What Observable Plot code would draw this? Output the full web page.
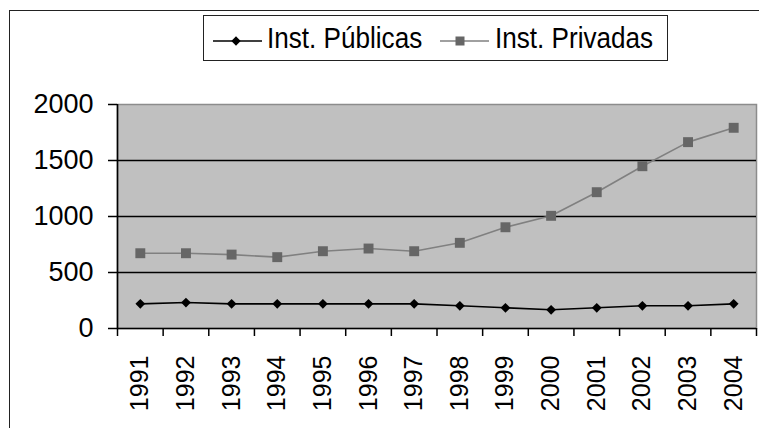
<!DOCTYPE html>
<html>
<head>
<meta charset="utf-8">
<script src="https://cdn.jsdelivr.net/npm/d3@7"></script>
<script src="https://cdn.jsdelivr.net/npm/@observablehq/plot@0.6"></script>
<style>
  html, body { margin: 0; padding: 0; background: white; }
  #wrap { position: relative; width: 759px; height: 428px; overflow: hidden; font-family: "Liberation Sans", Arial, sans-serif; }
  #chart { position: absolute; left: 0; top: 0; }
  #outer { position: absolute; left: 9px; top: 10px; width: 900px; height: 600px; border: 1.6px solid #222; box-sizing: border-box; }
  #legend { position: absolute; left: 203px; top: 15px; width: 465px; height: 46px; border: 1.6px solid #222; box-sizing: border-box; background: white; }
  .sw { position: absolute; top: 0; }
  .lt { position: absolute; top: 5px; font-size: 30px; line-height: 34px; color: #000; transform-origin: left center; transform: scaleX(0.87); white-space: nowrap; }
</style>
</head>
<body>
<div id="wrap">
  <div id="chart"></div>
  <div id="outer"></div>
  <div id="legend"></div>
</div>
<script>
const years = [1991, 1992, 1993, 1994, 1995, 1996, 1997, 1998, 1999, 2000, 2001, 2002, 2003, 2004];
const publicas = [220, 232, 220, 220, 220, 220, 220, 203, 185, 167, 185, 203, 203, 220];
const privadas = [672, 672, 660, 637, 690, 714, 690, 765, 904, 1006, 1217, 1449, 1664, 1792];
const yTicks = [0, 500, 1000, 1500, 2000];
const gridVals = [500, 1000, 1500];
const seriesNames = ["Inst. Públicas", "Inst. Privadas"];

const pub = years.map((y, i) => ({year: y, value: publicas[i]}));
const priv = years.map((y, i) => ({year: y, value: privadas[i]}));
const xLo = years[0] - 0.5, xHi = years[years.length - 1] + 0.5;
const boundaries = years.map(y => y - 0.5).concat([xHi]);

const diamond = d3.symbolDiamond2 || d3.symbolDiamond;

const chart = Plot.plot({
  width: 759,
  height: 428,
  marginLeft: 117,
  marginRight: 3,
  marginTop: 104,
  marginBottom: 100,
  style: {background: "transparent", fontFamily: "'Liberation Sans', Arial, sans-serif", color: "#000", overflow: "visible"},
  x: {domain: [xLo, xHi], label: null},
  y: {domain: [0, 2000], label: null},
  marks: [
    Plot.frame({fill: "#c0c0c0", stroke: "#8c8c8c", strokeWidth: 1.5}),
    Plot.ruleY(gridVals, {stroke: "#000", strokeWidth: 1.6}),
    Plot.ruleY([0], {stroke: "#000", strokeWidth: 1.6}),
    Plot.ruleX([xLo], {stroke: "#000", strokeWidth: 1.6}),
    Plot.axisY({ticks: yTicks, tickSize: 9, tickPadding: 15, fontSize: 27, tickFormat: d => String(d), label: null, stroke: "#000", strokeWidth: 1.5}),
    Plot.axisX({ticks: boundaries, tickSize: 8, fill: "none", label: null, stroke: "#000", strokeWidth: 1.5}),
    Plot.axisX({ticks: years, tickSize: 0, tickPadding: 27, tickRotate: -90, fontSize: 25, tickFormat: d => String(d), label: null}),
    Plot.line(priv, {x: "year", y: "value", stroke: "#808080", strokeWidth: 1.6}),
    Plot.dot(priv, {x: "year", y: "value", symbol: "square", r: 5.6, fill: "#666666", stroke: "none"}),
    Plot.line(pub, {x: "year", y: "value", stroke: "#000", strokeWidth: 1.6}),
    Plot.dot(pub, {x: "year", y: "value", symbol: diamond, r: 4.4, fill: "#000", stroke: "none"})
  ]
});
document.getElementById("chart").appendChild(chart);

// Legend
const legend = document.getElementById("legend");
const items = [
  {name: seriesNames[0], line: "#000", mark: "diamond", fill: "#000", swX: 8, textX: 63},
  {name: seriesNames[1], line: "#808080", mark: "square", fill: "#666666", swX: 235, textX: 291}
];
for (const it of items) {
  const svg = d3.create("svg").attr("class", "sw").attr("width", 52).attr("height", 44)
    .style("left", it.swX + "px");
  svg.append("line").attr("x1", 1).attr("x2", 50).attr("y1", 25).attr("y2", 25)
    .attr("stroke", it.line).attr("stroke-width", 1.6);
  if (it.mark === "diamond") {
    svg.append("path").attr("d", d3.symbol(diamond, 55)()).attr("transform", "translate(24,25)").attr("fill", it.fill);
  } else {
    svg.append("rect").attr("x", 16.5).attr("y", 20.5).attr("width", 9).attr("height", 9).attr("fill", it.fill);
  }
  legend.appendChild(svg.node());
  const t = document.createElement("span");
  t.className = "lt";
  t.style.left = it.textX + "px";
  t.textContent = it.name;
  legend.appendChild(t);
}
</script>
</body>
</html>
